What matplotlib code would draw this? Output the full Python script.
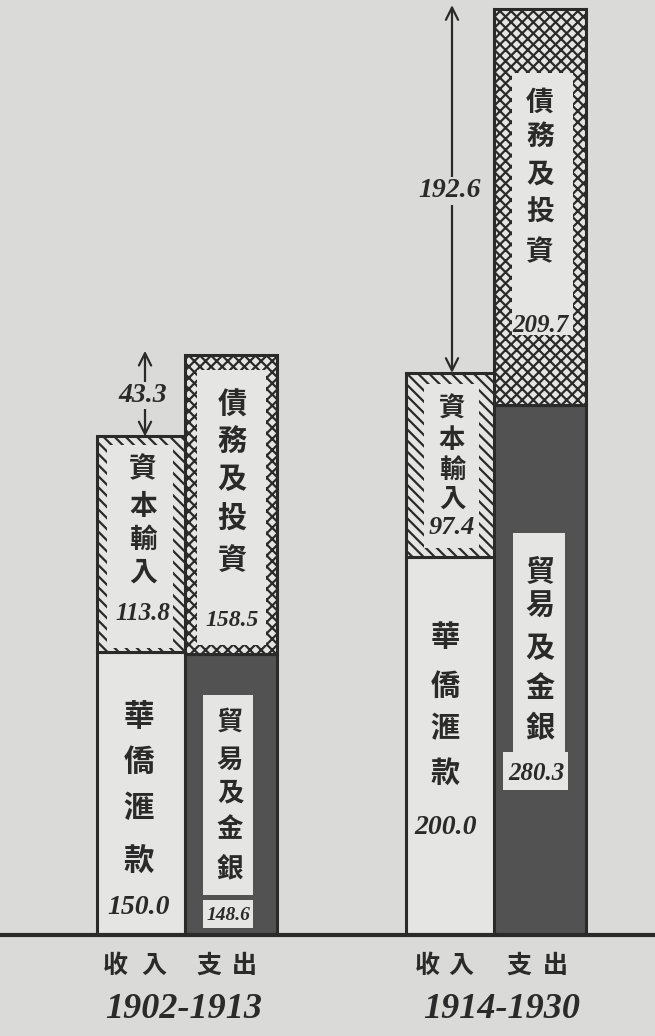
import matplotlib
matplotlib.use('Agg')
import matplotlib.pyplot as plt
from matplotlib.patches import Rectangle

# ---------------- data ----------------
periods = ['1902-1913', '1914-1930']
side_labels = ['收入', '支出']
remit = [150.0, 200.0]     # 華僑滙款 (income)
capital = [113.8, 97.4]    # 資本輸入 (income)
trade = [148.6, 280.3]     # 貿易及金銀 (expenditure)
debt = [158.5, 209.7]      # 債務及投資 (expenditure)
gap = [43.3, 192.6]        # expenditure minus income
remit_label = '華僑滙款'
capital_label = '資本輸入'
trade_label = '貿易及金銀'
debt_label = '債務及投資'

# ---------------- style ----------------
W, H = 655, 1036
BASE = 935          # baseline pixel row
PPU = 1.89          # pixels per unit
PAPER = '#dadad8'
LIGHT = '#e5e5e3'
DARK = '#525252'
INK = '#2a2a2a'
CJK = ['Noto Sans CJK TC', 'DejaVu Sans']
NUMF = 'Liberation Serif'

plt.rcParams['hatch.linewidth'] = 1.6
plt.rcParams['hatch.color'] = INK

fig = plt.figure(figsize=(W / 100, H / 100), dpi=100, facecolor=PAPER)
ax = fig.add_axes([0, (H - BASE) / H, 1, BASE / H])
ax.set_facecolor(PAPER)
ax.set_xlim(0, W)
ax.set_ylim(0, BASE / PPU)
ax.axis('off')

def py(p):
    """pixel row -> data y"""
    return (BASE - p) / PPU

inc_left = [97, 406]
exp_left = [185, 494]
inc_w = 89
exp_w = 92

def inner_box(x0, x1, y_top_px, y_bot_px):
    ax.add_patch(Rectangle((x0, py(y_bot_px)), x1 - x0, py(y_top_px) - py(y_bot_px),
                           facecolor=LIGHT, edgecolor='none', zorder=3))

def vtext(x, ys, s, size, color=INK):
    for ch, y in zip(s, ys):
        ax.text(x, py(y), ch, ha='center', va='center', fontsize=size,
                family=CJK, color=color, zorder=5, fontweight='bold')

def ntext(x, y, s, size):
    ax.text(x, py(y), s, ha='center', va='center', fontsize=size, family=NUMF,
            style='italic', fontweight='bold', color=INK, zorder=5)

for i in range(2):
    # income: remittances + capital import
    ax.bar(inc_left[i], remit[i], width=inc_w, align='edge', bottom=0,
           facecolor=LIGHT, edgecolor=INK, linewidth=2.2, zorder=2)
    ax.bar(inc_left[i], capital[i], width=inc_w, align='edge', bottom=remit[i],
           facecolor=LIGHT, edgecolor=INK, hatch='\\\\\\', linewidth=2.2, zorder=2)
    # expenditure: trade + debt
    ax.bar(exp_left[i], trade[i], width=exp_w, align='edge', bottom=0,
           facecolor=DARK, edgecolor=INK, linewidth=2.2, zorder=2)
    ax.bar(exp_left[i], debt[i], width=exp_w, align='edge', bottom=trade[i],
           facecolor=LIGHT, edgecolor=INK, hatch='xxx', linewidth=2.2, zorder=2)

# ---- inner label boxes (layout) ----
# 1902-1913
inner_box(107, 173, 445, 648)          # capital
inner_box(197, 266, 370, 645)          # debt
inner_box(203, 253, 695, 895)          # trade label
inner_box(203, 253, 900, 928)          # trade number
# 1914-1930
inner_box(424, 479, 384, 548)          # capital
inner_box(512, 573, 73, 335)           # debt
inner_box(513, 565, 533, 752)          # trade label
inner_box(503, 568, 752, 790)          # trade number

# ---- texts ----
vtext(143, [469, 507, 540, 573], capital_label, 20)
ntext(143, 613, f'{capital[0]:.1f}', 18)
vtext(232, [405, 442, 479, 519, 560], debt_label, 21)
ntext(232, 620, f'{debt[0]:.1f}', 17)
vtext(139, [717, 762, 808, 862], remit_label, 22)
ntext(139, 908, f'{remit[0]:.1f}', 20)
vtext(230, [722, 760, 793, 830, 870], trade_label, 19)
ntext(228, 916, f'{trade[0]:.1f}', 14)

vtext(452, [409, 441, 470, 499], capital_label, 19)
ntext(452, 527, f'{capital[1]:.1f}', 19)
vtext(540, [103, 137, 175, 213, 252], debt_label, 20)
ntext(540, 325, f'{debt[1]:.1f}', 18)
vtext(445, [637, 686, 728, 773], remit_label, 21)
ntext(446, 828, f'{remit[1]:.1f}', 20)
vtext(540, [572, 606, 648, 688, 728], trade_label, 21)
ntext(536, 773, f'{trade[1]:.1f}', 18)

# ---- gap arrows ----
arrow_x = [145, 452]
for i in range(2):
    lo = remit[i] + capital[i]
    hi = trade[i] + debt[i]
    ax.annotate('', xy=(arrow_x[i], hi + 2), xytext=(arrow_x[i], lo),
                arrowprops=dict(arrowstyle='<->', color=INK, lw=1.6,
                                mutation_scale=22, shrinkA=0, shrinkB=0), zorder=4)
    ax.text(arrow_x[i] - 2, (lo + hi) / 2, f'{gap[i]:.1f}', ha='center', va='center',
            fontsize=20, family=NUMF, style='italic', fontweight='bold', color=INK,
            zorder=5, bbox=dict(facecolor=PAPER, edgecolor='none', pad=1))

# baseline
ax.axhline(0, color=INK, lw=3.0, zorder=6, clip_on=False)

# ---- bottom labels ----
char_x = [[(115, 154), (209, 244)], [(427, 461), (519, 555)]]
year_x = [184, 502]
for i in range(2):
    for j in range(2):
        for ch, cx in zip(side_labels[j], char_x[i][j]):
            fig.text(cx / W, 1 - 966 / H, ch, ha='center', va='center',
                     fontsize=18, family=CJK, fontweight='bold', color=INK)
    fig.text(year_x[i] / W, 1 - 1010 / H, periods[i], ha='center', va='center',
             fontsize=26, family=NUMF, style='italic', fontweight='bold', color=INK)

fig.savefig('out.png', dpi=100, facecolor=PAPER)
